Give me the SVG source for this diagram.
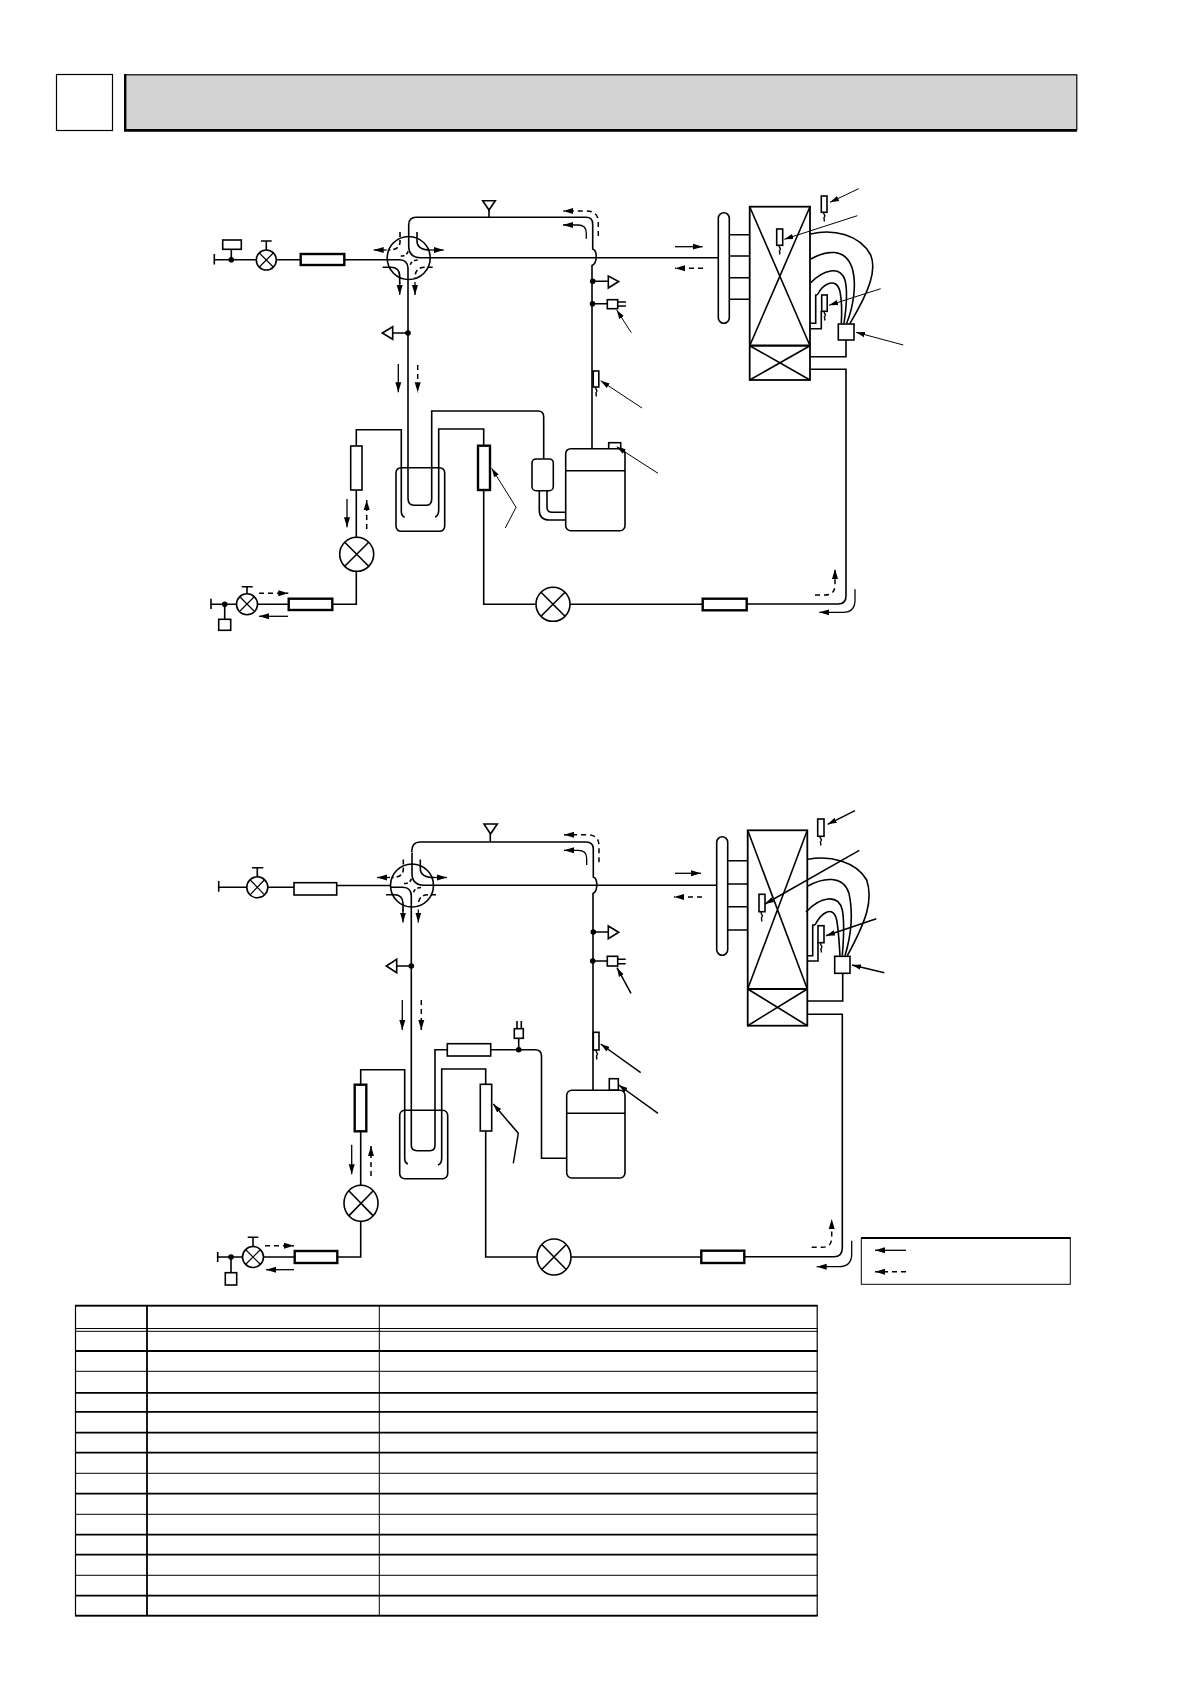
<svg xmlns="http://www.w3.org/2000/svg" width="1191" height="1685" viewBox="0 0 1191 1685">
<style>
.p{fill:none;stroke:#000;stroke-width:1.6}
.t{fill:none;stroke:#000;stroke-width:1.4}
.n{fill:#fff;stroke:#000;stroke-width:1.6}
.k{fill:#fff;stroke:#000;stroke-width:2.4}
.d{fill:#000;stroke:none}
.a{fill:none;stroke:#000;stroke-width:1.3;marker-end:url(#h)}
.b{fill:none;stroke:#000;stroke-width:1.5;stroke-dasharray:5 4;marker-end:url(#h)}
.l{fill:none;stroke:#000;stroke-width:1;marker-end:url(#s)}
.m{fill:none;stroke:#000;stroke-width:1.5;marker-end:url(#s)}
.g1{stroke:#000;stroke-width:1.2}
.g2{stroke:#000;stroke-width:2.2}
</style>
<defs>
<marker id="h" markerUnits="userSpaceOnUse" markerWidth="12" markerHeight="8" refX="10" refY="4" orient="auto"><path d="M0,1 L10,4 L0,7 Z"/></marker>
<marker id="s" markerUnits="userSpaceOnUse" markerWidth="10" markerHeight="7" refX="9" refY="3.5" orient="auto"><path d="M0,0.8 L9,3.5 L0,6.2 Z"/></marker>
<g id="fw">
<circle class="n" r="21.5"/>
<path class="p" d="M0,-33 V-12 Q0,-0.5 12,-0.3 H21.5"/>
<path class="p" d="M-21.5,1.7 H-9 Q-1,2 -0.7,10 V21.5"/>
<path class="p" d="M8.3,-26 V-17 Q8.3,-8 22,-8"/>
<path class="a" d="M22,-8 H35"/>
<path class="a" d="M-22,-8 H-35"/>
<path class="p" stroke-dasharray="5 3" d="M-8.7,-26 V-16 Q-9,-8 -20,-8"/>
<path class="p" d="M-26,9.3 H-18 Q-9,9.3 -9,18 V26"/>
<path class="a" d="M-9,24 V37"/>
<path class="p" stroke-dasharray="5 3" d="M24,9.3 H16 Q6.3,9.3 6.3,20"/>
<path class="a" d="M6.3,24 V37"/>
<path class="p" stroke-dasharray="3.5 2.5" d="M-8,-2 Q-1,-2 -0.5,-8 M9,2 Q2,2 1,9"/>
</g>
</defs>
<rect width="1191" height="1685" fill="#fff"/>

<g id="header">
<rect x="56.5" y="74.5" width="56" height="56" fill="#fff" stroke="#000" stroke-width="1.2"/>
<rect x="125.2" y="74.8" width="951.6" height="54.8" fill="#d3d3d3" stroke="#000" stroke-width="1.2"/>
<path d="M125.2,74 V130.5 H1077" fill="none" stroke="#000" stroke-width="2.4"/>
</g>

<g id="connectors">
<!-- upper circuit -->
<path class="p" d="M214.3,259.7 H301 M344,259.7 H388"/>
<path class="p" d="M408.7,225 Q408.7,217.3 416,217.3 H586 Q592.7,217.3 592.7,224 V249 C597.5,250.5 597.5,263.5 592,265.5 V448.7"/>
<path class="p" d="M430,257.7 H718"/>
<path class="p" d="M408,279 V498 Q408,505.3 414,505.3 H426 Q431.7,505.3 431.7,499 V411 H538 Q543.7,411 543.7,417 V459"/>
<path class="p" d="M404.7,517.3 Q401.3,516 401.3,511 V429.7 H356.3 V554 V604.3 H332"/>
<path class="p" d="M288.7,604.3 H258 M236,604.3 H211"/>
<path class="p" d="M435,517 Q438.7,516 438.7,510 V429 H483.7 V604.3 H703 M746,604 H838 Q846,604 846,596 V369.3 H810"/>
<path class="p" d="M539.3,490 V510 Q539.3,520 549,520 H565.7 M547,490 V507 Q547,512.3 552,512.3 H565.7"/>
<path class="p" d="M408,333 H392.7 M592.7,281.3 H608.3 M592.7,303.7 H607.3 M617.7,302 H626 M617.7,306 H626 M489,217.3 V210"/>
<path class="p" d="M729.3,234.7 H749.7 M729.3,256 H749.7 M729.3,277.7 H749.7 M729.3,299.3 H749.7"/>
<path class="p" d="M810.7,234 C833.3,228.3 860,235 870.7,255 C876.7,270 870,290 850,323.3"/>
<path class="p" d="M810.7,259 C826.7,250 845,248.3 851.7,266.7 C857.3,283.3 853.3,306.7 846.7,323.3"/>
<path class="p" d="M810.7,282.7 C823.3,270 840,265 845,280 C848.3,293.3 846,310 844,323.3"/>
<path class="p" d="M817.3,295 C823.3,283.3 836.7,276.7 840,291.7 C842.3,303.3 841.7,316.7 841.3,323.3"/>
<path class="p" d="M810.5,323.3 H815.7 V295 H817.3 M810.5,328.7 H821.3 V311"/>
<path class="p" d="M846,340 V356.7 H810.5"/>
<!-- lower circuit -->
<path class="p" d="M218.7,887.3 H294 M336.7,885.5 H391"/>
<path class="p" d="M411.7,852 Q411.7,842 420,842 H586 Q593.3,842 593.3,849 V877 C598,878.5 598,891.5 593,893.5 V1090.3"/>
<path class="p" d="M434,885.3 H716.7"/>
<path class="p" d="M411.3,907 V1145 Q411.3,1150.7 417,1150.7 H430 Q435,1150.7 435,1145 V1049.7 H447.3 M490.7,1049.7 H535 Q541.5,1049.7 541.5,1056 V1158.3 H566.7"/>
<path class="p" d="M408,1164 Q404.7,1163 404.7,1158 V1069.7 H360.7 V1257 H337.3"/>
<path class="p" d="M294.7,1257 H264 M242,1257 H217.7"/>
<path class="p" d="M438,1165 Q441.7,1164 441.7,1158 V1069 H485.7 V1257 H701.3 M744.3,1256.7 H834 Q842.3,1256.7 842.3,1248 V1014.3 H807.3"/>
<path class="p" d="M411.3,966 H396.7 M593.3,932 H608.3 M592.7,961 H607.3 M617.7,959.3 H625.7 M617.7,963.7 H625.7 M490.3,842 V834 M518.7,1049.7 V1038.3"/>
<path class="p" d="M727.7,860.7 H747.7 M727.7,884 H747.7 M727.7,906.7 H747.7 M727.7,930 H747.7"/>
<path class="p" d="M808,859.3 C830,855 856.7,861.7 866.7,880 C873.3,900 866.7,920 847.3,955.7"/>
<path class="p" d="M808,886 C823.3,877.3 843.3,875 849,893.3 C853.3,913.3 850.7,936.7 845,955.7"/>
<path class="p" d="M806,912 C820,896.7 838.3,893.3 842.3,910 C845,923.3 843.3,943.3 842.3,955.7"/>
<path class="p" d="M815,925 C821.7,911.7 833.3,905 836.7,920 C839,933.3 839.3,946.7 840,955.7"/>
<path class="p" d="M808,955.7 H812.7 V925 H815 M808,961 H818 V942"/>
<path class="p" d="M842.7,973 V1001 H807.3"/>
</g>

<g id="flow-arrows">
<path class="b" d="M598.3,236 V222 Q598.3,211 586,211 H563.3"/>
<path class="a" d="M586.3,238.7 V233 Q586.3,225 578,225 H563"/>
<path class="a" d="M398.3,364 V392.3"/>
<path class="b" d="M417.7,365 V392.3"/>
<path class="a" d="M675,246.7 H702.7"/>
<path class="b" d="M703,268.3 H675"/>
<path class="a" d="M347,499 V527.3"/>
<path class="b" d="M366.7,529 V500"/>
<path class="b" d="M259,593.3 H288.3"/>
<path class="a" d="M288,616.3 H259"/>
<path class="b" d="M815,595 H825 Q835,595 835,585 V569"/>
<path class="a" d="M855,589.3 V600 Q855,612.3 843,612.3 H819.3"/>
<path class="b" d="M599,862.3 V846 Q599,834.7 587,834.7 H564"/>
<path class="a" d="M586.7,865 V858 Q586.7,850.3 578,850.3 H564"/>
<path class="a" d="M402.3,1000 V1030"/>
<path class="b" d="M421.3,1000 V1030"/>
<path class="a" d="M675,873.3 H701"/>
<path class="b" d="M702,897 H674"/>
<path class="a" d="M351.7,1144.7 V1174.3"/>
<path class="b" d="M371,1176 V1146"/>
<path class="b" d="M265,1245.7 H294"/>
<path class="a" d="M294,1269.7 H266"/>
<path class="b" d="M811.7,1247.3 H822 Q831.7,1247.3 831.7,1238 V1219"/>
<path class="a" d="M851.7,1240.7 V1254 Q851.7,1266.7 839,1266.7 H816.7"/>
</g>

<g id="valve-u1"><circle class="n" cx="266.3" cy="260" r="10"/><path class="g1" d="M259.3,253 L273.3,267 M273.3,253 L259.3,267" fill="none"/><path class="p" d="M266.3,250 V241 M261,241 H271.7"/></g>
<g id="end-u1"><path class="p" d="M214.3,254 V264.5 M231.3,259.7 V249"/><circle class="d" cx="231.3" cy="259.7" r="2.8"/><rect class="n" x="222.7" y="240" width="18.6" height="9.3"/></g>
<g id="cap-u1"><rect class="k" x="300.7" y="254" width="43.6" height="11"/></g>
<use id="fourway-u" href="#fw" transform="translate(408.7,258)"/>
<g id="port-u1"><path class="n" d="M392.7,326.7 V339.3 L382.3,333 Z"/><circle class="d" cx="408" cy="333" r="2.8"/></g>
<g id="port-u2"><path class="n" d="M482.7,200.7 H495.3 L489,210 Z"/></g>
<g id="port-u3"><circle class="d" cx="592.7" cy="281.3" r="2.8"/><path class="n" d="M608.3,276 V288 L618.7,281.5 Z"/></g>
<g id="switch-u"><circle class="d" cx="592.5" cy="303.7" r="2.8"/><rect class="n" x="607.3" y="299.7" width="10.4" height="9"/></g>
<g id="sensor-u1"><rect class="n" x="593.2" y="371" width="5.6" height="16"/><path class="t" d="M596,387 c-2,2 2.5,3 0.5,5 c-2,1.5 1,2 -0.5,4.5"/></g>
<g id="compressor-u"><rect class="n" x="608.7" y="442.7" width="12" height="7"/><rect class="n" x="565.7" y="448.7" width="59.3" height="82" rx="5"/><path class="p" d="M565.7,470.7 H625"/></g>
<g id="accum-u"><rect class="n" x="532" y="459" width="21.3" height="31.7" rx="4"/></g>
<g id="vessel-u"><rect x="396" y="467.7" width="48.7" height="63.6" rx="5" fill="none" stroke="#000" stroke-width="1.6"/></g>
<g id="hx-u1"><rect class="n" x="350.7" y="446" width="11.3" height="44"/></g>
<g id="hx-u2"><rect class="k" x="478" y="445.7" width="12" height="44.3"/></g>
<g id="lev-u1"><circle class="n" cx="356.7" cy="554.3" r="17"/><path stroke="#000" stroke-width="1.6" d="M344.7,542.3 L368.7,566.3 M368.7,542.3 L344.7,566.3" fill="none"/></g>
<g id="cap-u2"><rect class="k" x="288.7" y="598.7" width="43.6" height="11.3"/></g>
<g id="valve-u2"><circle class="n" cx="247" cy="604.3" r="10.5"/><path class="g1" d="M240,597 L254,611 M254,597 L240,611" fill="none"/><path class="p" d="M247,594 V586.7 M241.7,586.7 H252.7"/></g>
<g id="end-u2"><path class="p" d="M211,598.7 V609 M224.7,604.3 V619.3"/><circle class="d" cx="224.7" cy="604.3" r="2.8"/><rect class="n" x="218.7" y="619.3" width="12" height="11"/></g>
<g id="lev-u2"><circle class="n" cx="553" cy="604.3" r="17"/><path stroke="#000" stroke-width="1.6" d="M541,592.3 L565,616.3 M565,592.3 L541,616.3" fill="none"/></g>
<g id="cap-u3"><rect class="k" x="702.7" y="598.7" width="44" height="11.6"/></g>
<g id="header-u"><rect class="n" x="718.3" y="212.7" width="11" height="110.6" rx="5.5"/></g>
<g id="coil-u"><rect fill="none" stroke="#000" stroke-width="1.8" x="749.7" y="206.7" width="60.3" height="173.3"/><path class="p" d="M749.7,206.7 L810,345.7 M810,206.7 L749.7,345.7 M749.7,345.7 L810,380 M810,345.7 L749.7,380"/><path class="g2" d="M749.7,345.7 H810" fill="none"/></g>
<g id="sensor-u2"><rect class="n" x="821.3" y="196" width="5.7" height="16.3"/><path class="t" d="M824,212 c-2,2 2.5,3 0.5,5 c-2,1.5 1,2 -0.5,4.5"/></g>
<g id="sensor-u3"><rect class="n" x="776.7" y="229" width="6" height="16.3"/><path class="t" d="M779.5,245 c-2,2 2.5,3 0.5,5 c-2,1.5 1,2 -0.5,4.5"/></g>
<g id="sensor-u4"><rect class="n" x="821.7" y="295" width="5.5" height="16.3"/><path class="t" d="M824.5,311 c-2,2 2.5,3 0.5,5 c-2,1.5 1,2 -0.5,4.5"/></g>
<g id="box-u"><rect class="n" x="838.3" y="324" width="15.7" height="16"/></g>

<g id="valve-l1"><circle class="n" cx="257.3" cy="887.3" r="10.5"/><path class="g1" d="M250.3,880 L264.3,894.6 M264.3,880 L250.3,894.6" fill="none"/><path class="p" d="M257.3,877 V867.7 M252,867.7 H263.3"/></g>
<g id="end-l1"><path class="p" d="M218.7,881 V891.7"/></g>
<g id="cap-l1"><rect class="n" x="294" y="882.7" width="42.7" height="12.3"/></g>
<use id="fourway-l" href="#fw" transform="translate(412,885.5)"/>
<g id="port-l1"><path class="n" d="M396.7,959.3 V972.7 L386.3,966 Z"/><circle class="d" cx="411.3" cy="966" r="2.8"/></g>
<g id="port-l2"><path class="n" d="M484,824 H497.3 L490.5,834 Z"/></g>
<g id="port-l3"><circle class="d" cx="593.3" cy="932" r="2.8"/><path class="n" d="M608.3,926 V938.7 L618.7,932.3 Z"/></g>
<g id="switch-l"><circle class="d" cx="592.7" cy="961" r="2.8"/><rect class="n" x="607.3" y="956.3" width="10.4" height="9.7"/></g>
<g id="sensor-l1"><rect class="n" x="593.3" y="1032.3" width="5.7" height="17.7"/><path class="t" d="M596.5,1050 c-2,2 2.5,3 0.5,5 c-2,1.5 1,2 -0.5,4.5"/></g>
<g id="compressor-l"><rect class="n" x="609.3" y="1078.7" width="9" height="11.5"/><rect class="n" x="566.7" y="1090.3" width="58.3" height="87.7" rx="5"/><path class="p" d="M566.7,1113.3 H625"/></g>
<g id="plug-l"><circle class="d" cx="518.7" cy="1049.7" r="2.8"/><rect class="n" x="514.3" y="1028.7" width="9" height="9.6"/><path class="p" d="M517,1021 V1028.7 M521.3,1021 V1028.7"/></g>
<g id="cap-l2"><rect class="n" x="447.3" y="1043.7" width="43.4" height="12.3"/></g>
<g id="vessel-l"><rect x="399.7" y="1110.3" width="48" height="68.4" rx="5" fill="none" stroke="#000" stroke-width="1.6"/></g>
<g id="hx-l1"><rect class="k" x="354.7" y="1084.7" width="11.6" height="46.6"/></g>
<g id="hx-l2"><rect class="n" x="480.3" y="1084.3" width="11.4" height="46.7"/></g>
<g id="lev-l1"><ellipse class="n" cx="361" cy="1203.3" rx="17" ry="18"/><path fill="none" stroke="#000" stroke-width="1.6" d="M349,1191 L373,1215.6 M373,1191 L349,1215.6"/></g>
<g id="cap-l3"><rect class="k" x="294.7" y="1251" width="42.6" height="12"/></g>
<g id="valve-l2"><circle class="n" cx="253" cy="1257" r="10.5"/><path class="g1" d="M246,1250 L260,1264 M260,1250 L246,1264" fill="none"/><path class="p" d="M253,1247 V1237.3 M247.7,1237.3 H258.3"/></g>
<g id="end-l2"><path class="p" d="M217.7,1252 V1262 M231,1257 V1272.7"/><circle class="d" cx="231" cy="1257" r="2.8"/><rect class="n" x="225.3" y="1272.7" width="11.4" height="12.3"/></g>
<g id="lev-l2"><ellipse class="n" cx="554" cy="1257" rx="17" ry="18"/><path fill="none" stroke="#000" stroke-width="1.6" d="M542,1244.7 L566,1269.3 M566,1244.7 L542,1269.3"/></g>
<g id="cap-l4"><rect class="k" x="701.3" y="1250.7" width="43" height="12.3"/></g>
<g id="header-l"><rect class="n" x="716.7" y="836.7" width="11" height="118.6" rx="5.5"/></g>
<g id="coil-l"><rect fill="none" stroke="#000" stroke-width="1.8" x="747.7" y="830.3" width="59.6" height="195.4"/><path class="p" d="M747.7,830.3 L807.3,989 M807.3,830.3 L747.7,989 M747.7,989 L807.3,1025.7 M807.3,989 L747.7,1025.7"/><path class="g2" d="M747.7,989 H807.3" fill="none"/></g>
<g id="sensor-l2"><rect class="n" x="817.7" y="819" width="6.3" height="17.3"/><path class="t" d="M820.5,836 c-2,2 2.5,3 0.5,5 c-2,1.5 1,2 -0.5,4.5"/></g>
<g id="sensor-l3"><rect class="n" x="759" y="894.3" width="6" height="17.4"/><path class="t" d="M761.5,912 c-2,2 2.5,3 0.5,5 c-2,1.5 1,2 -0.5,4.5"/></g>
<g id="sensor-l4"><rect class="n" x="818" y="925.7" width="6" height="17"/><path class="t" d="M821,943 c-2,2 2.5,3 0.5,5 c-2,1.5 1,2 -0.5,4.5"/></g>
<g id="box-l"><rect class="n" x="834.7" y="956.3" width="15.3" height="17"/></g>

<g id="leaders">
<path class="l" d="M631.3,332.7 L616.7,310"/>
<path class="l" d="M642,408 L600.7,380.7"/>
<path class="l" d="M658,473.3 L616.7,446.7"/>
<path class="l" d="M505.3,528 L516,507.3 L491.7,468.3"/>
<path class="l" d="M858.7,188.7 L830,202.3"/>
<path class="l" d="M857.3,215.7 L784.3,239.3"/>
<path class="l" d="M880.7,288.7 L829,305.3"/>
<path class="l" d="M903.3,345 L856,332.3"/>
<path class="m" d="M631,993.3 L617,967.7"/>
<path class="m" d="M640.7,1072.7 L600.7,1044"/>
<path class="m" d="M658,1113.3 L618.7,1085"/>
<path class="m" d="M513.3,1163.3 L518.3,1133.3 L493.3,1104"/>
<path class="m" d="M855,810.7 L827.7,824.3"/>
<path class="m" d="M859.3,850.3 L765,904"/>
<path class="m" d="M876.3,918.7 L826,935.7"/>
<path class="m" d="M884.3,972.7 L852,965"/>
</g>

<g id="legend">
<rect x="861.3" y="1238" width="209" height="46.3" fill="#fff" stroke="#000" stroke-width="1"/>
<path d="M861,1238 H1070.5" stroke="#000" stroke-width="1.8" fill="none"/>
<path class="a" d="M906,1250.3 H875"/>
<path class="b" d="M906,1271.7 H875"/>
</g>

<g id="table" fill="none" stroke="#000">
<rect x="75.5" y="1305.7" width="741.7" height="310" stroke-width="1.2"/>
<path stroke-width="1.8" d="M75,1305.7 H817.5 M75,1351 H817.5 M75,1392.8 H817.5 M75,1411.8 H817.5 M75,1432.7 H817.5 M75,1452.7 H817.5 M75,1493.7 H817.5 M75,1534.7 H817.5 M75,1554.7 H817.5 M75,1595.7 H817.5 M75,1615.7 H817.5 M147,1305.7 V1615.7"/>
<path stroke-width="1" d="M75,1328.5 H817.5 M75,1331.3 H817.5 M75,1371.3 H817.5 M75,1473.3 H817.5 M75,1514.3 H817.5 M75,1575.3 H817.5 M379.3,1305.7 V1615.7"/>
</g>
</svg>
